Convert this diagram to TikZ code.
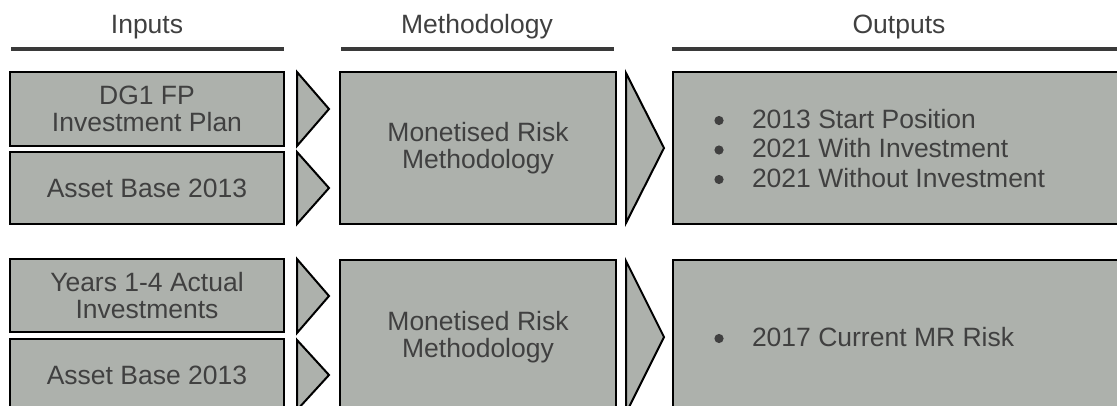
\documentclass[tikz,border=0pt]{standalone}
\usepackage{fontspec}
\setmainfont{Liberation Sans}
\definecolor{boxfill}{HTML}{ADB1AC}
\definecolor{txt}{HTML}{404040}
\definecolor{rule}{HTML}{3A3A3A}
\begin{document}
\begin{tikzpicture}[x=1pt,y=-1pt,
  every node/.style={font=\fontsize{26.5}{27}\selectfont, text=txt, inner sep=0pt, outer sep=0pt},
  box/.style={draw=black, line width=2pt, fill=boxfill, align=center},
  chev/.style={draw=black, line width=2pt, fill=boxfill, line join=miter},
  hdrline/.style={draw=rule, line width=4pt},
  hdr/.style={text=txt, anchor=base},
  item/.style={anchor=base west},
  bullet/.style={fill=txt}]
\useasboundingbox (0,0) rectangle (1117,405);
\clip (0,0) rectangle (1117,405);
% headers
\node[hdr] (hin) at (147,33) {Inputs};
\node[hdr] (hme) at (477,33) {Methodology};
\node[hdr] (hou) at (899,33) {Outputs};
\draw[hdrline] (11,48.7) -- (284,48.7);
\draw[hdrline] (341,48.7) -- (614,48.7);
\draw[hdrline] (672,48.7) -- (1130,48.7);
% top row
\node[box, minimum width=274pt, minimum height=74pt] (a1) at (147,109) {DG1 FP\\Investment Plan};
\node[box, minimum width=274pt, minimum height=72pt] (a2) at (147,188) {Asset Base 2013};
\node[box, minimum width=276pt, minimum height=152pt] (m1) at (478,148) {Monetised Risk\\Methodology};
\node[box, minimum width=460pt, minimum height=152pt] (o1) at (903,148) {};
\node[item] (o1a) at (752,128) {2013 Start Position};
\node[item] (o1b) at (752,157.5) {2021 With Investment};
\node[item] (o1c) at (752,187) {2021 Without Investment};
\fill[bullet] (719,120.5) circle (4.6pt);
\fill[bullet] (719,150) circle (4.6pt);
\fill[bullet] (719,179.5) circle (4.6pt);
\draw[chev] (297,72) -- (329,109) -- (297,146) -- cycle;
\draw[chev] (297,152) -- (329,188) -- (297,224) -- cycle;
\draw[chev] (626,73) -- (664,148) -- (626,223) -- cycle;
% bottom row
\node[box, minimum width=274pt, minimum height=73pt] (b1) at (147,295.5) {Years 1-4 Actual\\Investments};
\node[box, minimum width=274pt, minimum height=72pt] (b2) at (147,375) {Asset Base 2013};
\node[box, minimum width=276pt, minimum height=154pt] (m2) at (478,337) {Monetised Risk\\Methodology};
\node[box, minimum width=460pt, minimum height=154pt] (o2) at (903,337) {};
\node[item] (o2a) at (752,346) {2017 Current MR Risk};
\fill[bullet] (719,338.5) circle (4.6pt);
\draw[chev] (297,259) -- (329,296) -- (297,333) -- cycle;
\draw[chev] (297,340) -- (329,375) -- (297,410) -- cycle;
\draw[chev] (626,261) -- (664,337) -- (626,413) -- cycle;
\end{tikzpicture}
\end{document}
